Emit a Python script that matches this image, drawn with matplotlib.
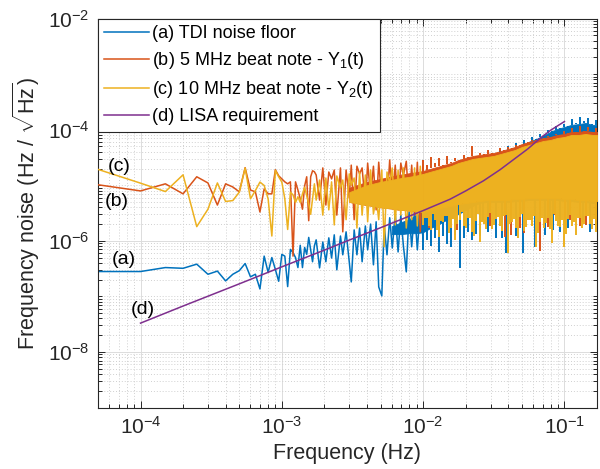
import numpy as np
import matplotlib
matplotlib.use('Agg')
import matplotlib.pyplot as plt
from matplotlib.ticker import FixedLocator, LogLocator, LogFormatterSciNotation, NullFormatter

plt.rcParams['font.family'] = ['Liberation Sans', 'DejaVu Sans']
plt.rcParams['mathtext.fontset'] = 'custom'
plt.rcParams['mathtext.rm'] = 'Liberation Sans'
plt.rcParams['mathtext.it'] = 'Liberation Sans:italic'
plt.rcParams['mathtext.bf'] = 'Liberation Sans:bold'

# ---------------- data ----------------
labels = ["(a) TDI noise floor",
          "(b) 5 MHz beat note - Y$_1$(t)",
          "(c) 10 MHz beat note - Y$_2$(t)",
          "(d) LISA requirement"]

# low-frequency region: individual spectral points
f_low = [5e-5, 1e-4, 1.5e-4, 2e-4, 2.5e-4, 3e-4, 3.5e-4, 4e-4, 4.5e-4, 5e-4,
         5.5e-4, 6e-4, 6.5e-4, 7e-4, 7.5e-4, 8e-4, 8.5e-4, 9e-4, 9.5e-4, 1e-3,
         1.05e-3, 1.1e-3, 1.15e-3, 1.2e-3, 1.25e-3, 1.3e-3, 1.35e-3, 1.4e-3, 1.45e-3, 1.5e-3,
         1.55e-3, 1.6e-3, 1.65e-3, 1.7e-3]
tdi_low = [2.8e-7, 2.8e-7, 3.3e-7, 3.2e-7, 3.8e-7, 2.5e-7, 2.85e-7, 1.9e-7, 2.5e-7, 2.9e-7,
           3.9e-7, 2.25e-7, 2.5e-7, 1.36e-7, 5.3e-7, 2.7e-7, 5.0e-7, 3.05e-7, 1.87e-7, 5.7e-7,
           5.3e-7, 1.5e-7, 7.0e-7, 6.1e-7, 5.0e-7, 3.3e-7, 8.3e-7, 3.3e-7, 7.6e-7, 5.7e-7,
           1.15e-6, 6.9e-7, 4.2e-7, 8.1e-7]
beat5_low = [1.02e-5, 7.9e-6, 1.06e-5, 7.0e-6, 1.42e-5, 1.1e-5, 4.4e-6, 1.06e-5, 9.3e-6, 7.6e-6,
             2.07e-5, 8.2e-6, 7.6e-6, 3.3e-6, 8.6e-6, 7.0e-6, 7.0e-6, 1.9e-5, 1.48e-5, 1.3e-5,
             1.15e-5, 1.06e-5, 1.15e-5, 5.3e-7, 1.15e-5, 8.2e-6, 5.7e-6, 3.7e-6, 9.7e-6, 1.42e-5,
             2.3e-6, 1.42e-5, 1.82e-5, 1.75e-5]
beat10_low = [1.93e-5, 1.09e-5, 7.7e-6, 1.54e-5, 1.8e-6, 3.7e-6, 1.1e-5, 5.1e-6, 5.3e-6, 7.5e-6,
              2.04e-5, 5.7e-6, 8.0e-6, 1.14e-5, 9.9e-6, 5.7e-6, 1.22e-6, 1.85e-5, 1.42e-5, 1.14e-5,
              5.7e-6, 1.6e-6, 7.5e-6, 6.7e-6, 4.9e-6, 6.2e-6, 4.9e-6, 7.0e-6, 9.2e-6, 6.5e-6,
              4.6e-6, 3.0e-6, 5.7e-6, 1.06e-5]

# mid region: sampled peaks / troughs of the dense traces
f_mid = [1.75e-3, 1.85e-3, 1.95e-3, 2.05e-3, 2.15e-3, 2.25e-3, 2.35e-3, 2.45e-3, 2.6e-3, 2.7e-3,
         2.85e-3, 3.0e-3, 3.1e-3, 3.25e-3, 3.4e-3, 3.55e-3, 3.7e-3, 3.9e-3, 4.05e-3, 4.25e-3,
         4.45e-3, 4.65e-3, 4.85e-3, 5.1e-3, 5.3e-3, 5.55e-3, 5.8e-3, 6.05e-3, 6.35e-3, 6.65e-3,
         6.95e-3, 7.25e-3, 7.6e-3, 7.95e-3, 8.3e-3, 8.7e-3, 9.1e-3, 9.55e-3, 1.0e-2]
tdi_mid = [1.04e-6, 3.26e-7, 9.5e-7, 4.2e-7, 1.13e-6, 4.9e-7, 1.28e-6, 3.0e-7, 1.22e-6, 5.6e-7,
           1.45e-6, 4.2e-7, 1.82e-7, 1.57e-6, 5.6e-7, 1.7e-6, 4.2e-7, 1.85e-6, 6.9e-7, 2.0e-6,
           3.7e-7, 2.2e-6, 1.48e-7, 1.02e-7, 1.93e-6, 5.6e-7, 2.6e-6, 7.4e-7, 3.05e-6, 6.3e-7,
           2.9e-6, 8.1e-7, 2.76e-7, 3.3e-6, 7.8e-7, 3.6e-6, 6.9e-7, 3.9e-6, 1.04e-6]
beat5_mid = [1.53e-5, 5.4e-6, 2.05e-5, 4.4e-6, 1.73e-5, 1.3e-5, 1.88e-5, 2.9e-6, 2.05e-5, 1.45e-6,
             1.88e-5, 5.9e-6, 2.3e-5, 2.4e-6, 2.2e-5, 1.6e-5, 2.05e-5, 4.4e-6, 2.5e-5, 6.7e-6,
             2.2e-5, 3.6e-6, 2.6e-5, 5.4e-6, 8.0e-6, 4.4e-6, 2.85e-5, 5.9e-6, 2.3e-5, 3.6e-6,
             2.5e-5, 1.5e-5, 2.7e-5, 4.4e-6, 2.3e-5, 2.9e-6, 2.6e-5, 1.45e-6, 2.3e-5]
beat10_mid = [5.4e-6, 1.24e-5, 2.9e-6, 1.35e-5, 3.6e-6, 1.15e-5, 1.93e-6, 1.47e-5, 9.0e-6, 1.24e-5,
              2.4e-6, 1.6e-5, 1.0e-5, 1.35e-5, 1.7e-6, 1.73e-5, 2.9e-6, 1.53e-5, 2.2e-6, 1.88e-5,
              3.05e-6, 6.0e-6, 2.4e-6, 1.88e-5, 7.8e-7, 1.73e-5, 1.1e-5, 2.05e-5, 1.93e-6, 1.88e-5,
              2.9e-6, 2.05e-5, 1.7e-6, 7.0e-6, 2.4e-6, 2.05e-5, 1.85e-6, 2.2e-5, 2.6e-6]

# dense core of the traces between 3 mHz and 10 mHz (upper / lower edge)
f_core_mid = [3e-3, 4e-3, 5e-3, 6e-3, 7e-3, 8e-3, 9e-3, 1e-2]
beat5_core_mid_hi = [9.0e-6, 1.15e-5, 1.3e-5, 1.45e-5, 1.55e-5, 1.65e-5, 1.72e-5, 1.81e-5]
beat5_core_mid_lo = [5.0e-6, 4.4e-6, 4.0e-6, 3.8e-6, 3.6e-6, 3.5e-6, 3.4e-6, 3.31e-6]
beat10_core_mid_hi = [7.5e-6, 1.0e-5, 1.15e-5, 1.25e-5, 1.35e-5, 1.42e-5, 1.5e-5, 1.6e-5]
beat10_core_mid_lo = [5.0e-6, 4.4e-6, 4.0e-6, 3.8e-6, 3.6e-6, 3.5e-6, 3.4e-6, 3.31e-6]
f_core_mid_tdi = [6e-3, 7e-3, 8e-3, 9e-3, 1e-2]
tdi_core_mid_hi = [1.83e-6, 2.16e-6, 2.48e-6, 2.92e-6, 3.3e-6]
tdi_core_mid_lo = [1.32e-6, 1.32e-6, 1.37e-6, 1.37e-6, 1.43e-6]

# high-frequency region: core of the solid band (upper / lower edge)
f_band = [1.0e-2, 1.12e-2, 1.26e-2, 1.41e-2, 1.58e-2, 1.78e-2, 2.0e-2, 2.24e-2, 2.51e-2, 2.82e-2,
          3.16e-2, 3.55e-2, 3.98e-2, 4.47e-2, 5.01e-2, 5.62e-2, 6.31e-2, 7.08e-2, 7.94e-2, 8.91e-2,
          0.1, 0.112, 0.126, 0.141, 0.158, 0.17]
tdi_hi = [1.19e-5, 1.24e-5, 1.3e-5, 1.35e-5, 1.41e-5, 1.55e-5, 1.62e-5, 1.76e-5, 1.91e-5, 2.16e-5,
          2.55e-5, 3.14e-5, 3.7e-5, 4.37e-5, 5.15e-5, 6.08e-5, 6.8e-5, 7.8e-5, 9.1e-5, 1.03e-4,
          1.12e-4, 1.22e-4, 1.26e-4, 1.32e-4, 1.22e-4, 1.22e-4]
tdi_lo = [1.43e-6, 1.69e-6, 1.91e-6, 2.27e-6, 2.57e-6, 3.05e-6, 3.59e-6, 4.24e-6, 4.8e-6, 5.0e-6,
          5.0e-6, 5.0e-6, 5.0e-6, 5.2e-6, 5.2e-6, 5.44e-6, 5.44e-6, 5.44e-6, 5.44e-6, 5.44e-6,
          5.2e-6, 5.2e-6, 5.0e-6, 5.0e-6, 4.8e-6, 4.8e-6]
beat5_hi = [1.81e-5, 1.97e-5, 2.14e-5, 2.32e-5, 2.51e-5, 2.85e-5, 3.09e-5, 3.36e-5, 3.51e-5, 3.66e-5,
            3.81e-5, 4.14e-5, 4.49e-5, 4.88e-5, 5.54e-5, 6.01e-5, 6.52e-5, 7.09e-5, 7.38e-5, 8.03e-5,
            8.37e-5, 9.09e-5, 9.09e-5, 9.47e-5, 9.09e-5, 9.09e-5]
beat5_lo = [3.31e-6, 3.59e-6, 3.75e-6, 4.07e-6, 4.24e-6, 4.61e-6, 4.8e-6, 5.01e-6, 5.22e-6, 5.44e-6,
            5.44e-6, 5.44e-6, 5.44e-6, 5.67e-6, 5.67e-6, 5.91e-6, 5.91e-6, 5.91e-6, 5.91e-6, 5.91e-6,
            5.67e-6, 5.67e-6, 5.44e-6, 5.44e-6, 5.22e-6, 5.22e-6]
beat10_hi = [1.6e-5, 1.74e-5, 1.89e-5, 2.05e-5, 2.22e-5, 2.52e-5, 2.73e-5, 2.97e-5, 3.1e-5, 3.23e-5,
             3.37e-5, 3.66e-5, 3.97e-5, 4.31e-5, 4.89e-5, 5.31e-5, 5.76e-5, 6.26e-5, 6.52e-5, 7.09e-5,
             7.39e-5, 8.03e-5, 8.03e-5, 8.37e-5, 8.03e-5, 8.03e-5]
beat10_lo = [3.31e-6, 3.59e-6, 3.75e-6, 4.07e-6, 4.24e-6, 4.61e-6, 4.8e-6, 5.01e-6, 5.22e-6, 5.44e-6,
             5.44e-6, 5.44e-6, 5.44e-6, 5.67e-6, 5.67e-6, 5.91e-6, 5.91e-6, 5.91e-6, 5.91e-6, 5.91e-6,
             5.67e-6, 5.67e-6, 5.44e-6, 5.44e-6, 5.22e-6, 5.22e-6]

# spikes sticking out of the band core (frequency, tip value)
f_teeth = [1.005e-2, 1.073e-2, 1.145e-2, 1.222e-2, 1.305e-2, 1.393e-2, 1.487e-2, 1.587e-2, 1.694e-2, 1.809e-2,
           1.931e-2, 2.062e-2, 2.201e-2, 2.349e-2, 2.508e-2, 2.677e-2, 2.858e-2, 3.051e-2, 3.257e-2, 3.477e-2,
           3.712e-2, 3.963e-2, 4.23e-2, 4.516e-2, 4.82e-2, 5.146e-2, 5.494e-2, 5.86e-2, 6.26e-2, 6.68e-2,
           7.13e-2, 7.61e-2, 8.13e-2, 8.68e-2, 9.26e-2, 9.89e-2, 0.1055, 0.1127, 0.1203, 0.1284,
           0.1371, 0.1463, 0.1562, 0.1667]
f_teeth2 = [1.038e-2, 1.109e-2, 1.183e-2, 1.263e-2, 1.348e-2, 1.439e-2, 1.536e-2, 1.64e-2, 1.75e-2, 1.869e-2,
            1.995e-2, 2.13e-2, 2.274e-2, 2.427e-2, 2.591e-2, 2.766e-2, 2.953e-2, 3.152e-2, 3.365e-2, 3.592e-2,
            3.835e-2, 4.095e-2, 4.37e-2, 4.666e-2, 4.98e-2, 5.317e-2, 5.676e-2, 6.055e-2, 6.468e-2, 6.902e-2,
            7.367e-2, 7.862e-2, 8.4e-2, 8.968e-2, 9.567e-2, 0.1022, 0.109, 0.1164, 0.1243, 0.1327,
            0.1417, 0.1512, 0.1614]
beat5_up_v = [2.89e-5, 2.35e-5, 3.27e-5, 2.55e-5, 3.14e-5, 2.25e-5, 3.41e-5, 2.66e-5, 3.14e-5, 2.45e-5,
              3.55e-5, 2.89e-5, 5.15e-5, 3.14e-5, 3.86e-5, 2.89e-5, 4.37e-5, 3.41e-5, 4.02e-5, 4.74e-5,
              3.55e-5, 4.94e-5, 4.02e-5, 5.37e-5, 4.37e-5, 5.84e-5, 4.94e-5, 6.61e-5, 5.37e-5, 7.18e-5,
              6.08e-5, 7.8e-5, 6.61e-5, 8.47e-5, 7.18e-5, 9.6e-5, 8.13e-5, 1.07e-4, 8.83e-5, 1.16e-4,
              9.2e-5, 1.12e-4, 8.83e-5, 1.07e-4]
beat10_down_v = [1.91e-6, 2.55e-6, 1.55e-6, 2.35e-6, 1.16e-6, 2.16e-6, 2.77e-6, 1.69e-6, 1.03e-6, 2.35e-6,
                 1.83e-6, 2.55e-6, 1.43e-6, 2.25e-6, 9.6e-7, 1.99e-6, 2.66e-6, 1.62e-6, 2.45e-6, 1.83e-6,
                 2.77e-6, 6.1e-7, 2.16e-6, 1.69e-6, 2.66e-6, 1.49e-6, 2.35e-6, 1.83e-6, 7.8e-7, 2.16e-6,
                 1.69e-6, 2.55e-6, 9.2e-7, 2.25e-6, 1.76e-6, 7.8e-7, 2.45e-6, 1.83e-6, 1.26e-6, 2.55e-6,
                 1.99e-6, 2.77e-6, 1.62e-6, 1.43e-6]
beat10_down2_v = [2.58e-6, 1.85e-6, 3.05e-6, 1.57e-6, 2.28e-6, 2.81e-6, 1.39e-6, 2.48e-6, 2.01e-6, 3.31e-6,
                  1.71e-6, 2.58e-6, 1.22e-6, 3.05e-6, 2.19e-6, 1.64e-6, 3.18e-6, 1.93e-6, 2.69e-6, 1.51e-6,
                  2.92e-6, 2.01e-6, 2.48e-6, 1.13e-6, 3.05e-6, 1.78e-6, 2.38e-6, 2.81e-6, 1.39e-6, 2.58e-6,
                  2.1e-6, 1.64e-6, 3.05e-6, 1.85e-6, 2.38e-6, 1.33e-6, 2.92e-6, 2.19e-6, 2.58e-6, 1.71e-6,
                  2.81e-6, 2.01e-6, 2.48e-6]
tdi_up_f = [3.257e-2, 3.477e-2, 3.712e-2, 3.963e-2, 4.23e-2, 4.516e-2, 4.82e-2, 5.146e-2, 5.494e-2, 5.86e-2,
            6.26e-2, 6.68e-2, 7.13e-2, 7.61e-2, 8.13e-2, 8.68e-2, 9.26e-2, 9.89e-2, 0.1055, 0.1127,
            0.1203, 0.1284, 0.1371, 0.1463, 0.1562, 0.1667]
tdi_up_v = [2.89e-5, 4.37e-5, 3.41e-5, 5.15e-5, 4.37e-5, 5.84e-5, 4.94e-5, 6.61e-5, 5.6e-5, 7.48e-5,
            6.34e-5, 8.47e-5, 7.18e-5, 9.9e-5, 8.47e-5, 1.16e-4, 9.9e-5, 1.26e-4, 1.12e-4, 1.55e-4,
            1.32e-4, 1.69e-4, 1.43e-4, 1.62e-4, 1.26e-4, 1.49e-4]
tdi_down_f = [1.005e-2, 1.073e-2, 1.145e-2, 1.222e-2, 1.305e-2, 1.393e-2, 1.487e-2, 1.587e-2, 1.694e-2, 1.809e-2,
              1.931e-2, 2.062e-2, 2.201e-2, 2.349e-2, 2.508e-2, 2.634e-2, 2.858e-2, 3.257e-2, 3.592e-2, 3.835e-2,
              4.516e-2, 5.06e-2, 6.16e-2, 7.25e-2, 7.9e-2, 8.26e-2, 9.26e-2, 0.1055, 0.1349, 0.1511]
tdi_down_v = [6.9e-7, 1.03e-6, 8.1e-7, 1.12e-6, 6.3e-7, 1.21e-6, 8.8e-7, 7.8e-7, 1.26e-6, 3.3e-7,
              1.12e-6, 1.43e-6, 1.03e-6, 1.32e-6, 1.21e-6, 2.38e-6, 1.43e-6, 1.12e-6, 1.13e-6, 6.1e-7,
              1.21e-6, 6.1e-7, 7.8e-7, 1.26e-6, 1.91e-6, 1.57e-6, 1.43e-6, 1.71e-6, 2.19e-6, 1.43e-6]
beat5_down_f = [1.108e-2, 1.75e-2, 2.953e-2, 3.773e-2, 4.16e-2, 4.82e-2, 5.146e-2, 6.68e-2, 7.66e-2, 8.53e-2,
                0.1005, 0.109, 0.1284, 0.141, 0.168]
beat5_down_v = [1.69e-6, 1.55e-6, 1.83e-6, 1.16e-6, 1.26e-6, 1.71e-6, 1.37e-6, 6.6e-7, 1.76e-6, 2.92e-6,
                1.62e-6, 2.38e-6, 1.85e-6, 1.91e-6, 1.91e-6]

# LISA requirement curve
lisa_f = [1e-4, 2e-4, 5e-4, 1e-3, 2e-3, 3e-3, 5e-3, 1e-2, 1.55e-2, 2e-2, 2.67e-2, 3.5e-2,
          4.6e-2, 5.5e-2, 6.73e-2, 8e-2, 1e-1]
lisa_v = [3.3e-8, 6.7e-8, 1.68e-7, 3.4e-7, 6.8e-7, 1.03e-6, 1.72e-6, 3.5e-6, 5.6e-6, 7.9e-6,
          1.2e-5, 1.9e-5, 3.2e-5, 4.5e-5, 7.0e-5, 9.8e-5, 1.4e-4]

# curve tags
tag_text = ["(c)", "(b)", "(a)", "(d)"]
tag_f = [7.1e-5, 6.8e-5, 7.6e-5, 1.04e-4]
tag_v = [2.2e-5, 5.0e-6, 4.7e-7, 5.7e-8]

colors = ['#0072BD', '#D95319', '#EDB120', '#7E2F8E']

# ---------------- figure ----------------
fig = plt.figure(figsize=(6.0, 4.69), dpi=100)
ax = fig.add_axes([0.1633, 0.1311, 0.8317, 0.8294])
ax.set_xscale('log')
ax.set_yscale('log')

lf_band = np.log10(f_band)


def teeth(f, v, env, c, z):
    base = 10 ** np.interp(np.log10(f), lf_band, np.log10(env))
    ax.vlines(f, v, base, color=c, lw=1.4, zorder=z)


# (a) TDI noise floor
z = 2
ax.plot(f_low + f_mid, tdi_low + tdi_mid, color=colors[0], lw=1.1, zorder=z, label=labels[0])
ax.fill_between(f_core_mid_tdi, tdi_core_mid_lo, tdi_core_mid_hi, color=colors[0], lw=0.6, zorder=z)
ax.fill_between(f_band, tdi_lo, tdi_hi, color=colors[0], lw=0.6, zorder=z)
teeth(tdi_up_f, tdi_up_v, tdi_hi, colors[0], z)
teeth(tdi_down_f, tdi_down_v, tdi_lo, colors[0], z)

# (b) 5 MHz beat note
z = 3
ax.plot(f_low + f_mid, beat5_low + beat5_mid, color=colors[1], lw=1.1, zorder=z, label=labels[1])
ax.fill_between(f_core_mid, beat5_core_mid_lo, beat5_core_mid_hi, color=colors[1], lw=0.6, zorder=z)
ax.fill_between(f_band, beat5_lo, beat5_hi, color=colors[1], lw=0.6, zorder=z)
teeth(f_teeth, beat5_up_v, beat5_hi, colors[1], z)
teeth(beat5_down_f, beat5_down_v, beat5_lo, colors[1], z)

# (c) 10 MHz beat note
z = 4
ax.plot(f_low + f_mid, beat10_low + beat10_mid, color=colors[2], lw=1.1, zorder=z, label=labels[2])
ax.fill_between(f_core_mid, beat10_core_mid_lo, beat10_core_mid_hi, color=colors[2], lw=0.6, zorder=z)
ax.fill_between(f_band, beat10_lo, beat10_hi, color=colors[2], lw=0.6, zorder=z)
teeth(f_teeth, beat10_down_v, beat10_lo, colors[2], z)
teeth(f_teeth2, beat10_down2_v, beat10_lo, colors[2], z)

# (d) LISA requirement
ax.plot(lisa_f, lisa_v, color=colors[3], lw=1.1, zorder=6, label=labels[3])

for t, fx, vy in zip(tag_text, tag_f, tag_v):
    ax.text(fx, vy, t, fontsize=14, ha='center', va='center', color='black', zorder=8)

ax.set_xlim(5e-5, 0.17)
ax.set_ylim(1e-9, 1e-2)

ax.xaxis.set_major_locator(FixedLocator([1e-4, 1e-3, 1e-2, 1e-1]))
ax.xaxis.set_major_formatter(LogFormatterSciNotation())
ax.xaxis.set_minor_locator(LogLocator(base=10, subs=np.arange(2, 10), numticks=20))
ax.xaxis.set_minor_formatter(NullFormatter())
ax.yaxis.set_major_locator(FixedLocator([1e-8, 1e-6, 1e-4, 1e-2]))
ax.yaxis.set_major_formatter(LogFormatterSciNotation())
ax.yaxis.set_minor_locator(LogLocator(base=10, subs=np.arange(1, 10), numticks=20))
ax.yaxis.set_minor_formatter(NullFormatter())

ax.grid(True, which='major', color='#dcdcdc', lw=0.7, ls='-', zorder=0)
ax.grid(True, which='minor', color='#d0d0d0', lw=0.7, ls=(0, (1, 2)), zorder=0)
ax.set_axisbelow(True)

ax.tick_params(which='both', direction='in', top=True, right=True, color='#262626',
               labelcolor='#262626', labelsize=15, width=0.7)
ax.tick_params(which='major', length=5, pad=6)
ax.tick_params(which='minor', length=3)
for s in ax.spines.values():
    s.set_color('#262626')
    s.set_linewidth(0.8)

ax.set_xlabel('Frequency (Hz)', fontsize=15.5, color='#262626', labelpad=4)
ax.set_ylabel(r'Frequency noise (Hz / $\sqrt{\mathrm{Hz}}$)', fontsize=15.5, color='#262626', labelpad=4)

leg = ax.legend(loc='upper left', bbox_to_anchor=(0, 1), borderaxespad=0, fontsize=13,
                fancybox=False, framealpha=1, edgecolor='#262626', handlelength=2.45,
                handletextpad=0.2, borderpad=0.35, labelspacing=0.45)
leg.get_frame().set_linewidth(0.8)
leg.set_zorder(10)

fig.savefig('out.png', dpi=100)
